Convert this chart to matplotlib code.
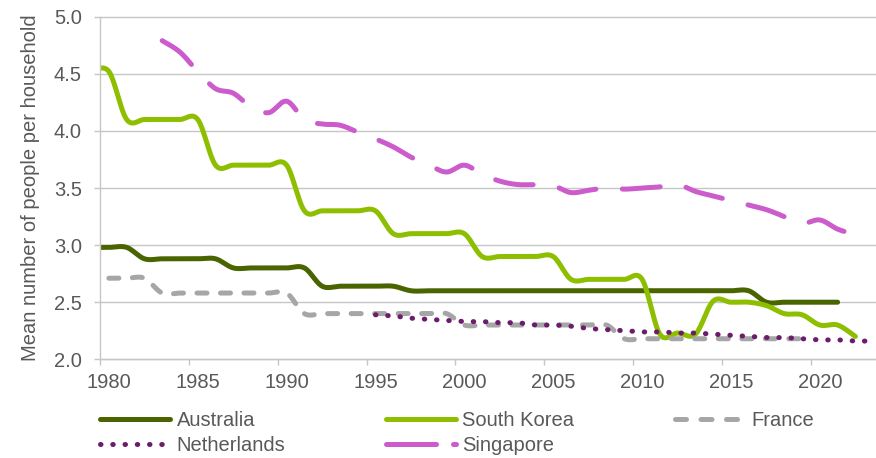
import numpy as np
import matplotlib
matplotlib.use("Agg")
import matplotlib.pyplot as plt
from matplotlib.lines import Line2D
from matplotlib.ticker import FixedLocator, NullFormatter, FixedFormatter

plt.rcParams['font.family'] = ['Liberation Sans', 'DejaVu Sans']

# ---------------- data ----------------
years_australia = list(range(1979, 2022))
australia = [2.98, 2.98, 2.98,
             2.88, 2.88, 2.88, 2.88, 2.88,
             2.80, 2.80, 2.80, 2.80, 2.80,
             2.64, 2.64, 2.64, 2.64, 2.64,
             2.60, 2.60, 2.60, 2.60, 2.60, 2.60, 2.60, 2.60, 2.60, 2.60,
             2.60, 2.60, 2.60, 2.60, 2.60, 2.60, 2.60, 2.60, 2.60, 2.60,
             2.50, 2.50, 2.50, 2.50, 2.50]

years_korea = list(range(1979, 2023))
south_korea = [4.52, 4.52,
               4.10, 4.10, 4.10, 4.10, 4.10,
               3.70, 3.70, 3.70, 3.70, 3.70,
               3.30, 3.30, 3.30, 3.30, 3.30,
               3.10, 3.10, 3.10, 3.10, 3.10,
               2.90, 2.90, 2.90, 2.90, 2.90,
               2.70, 2.70, 2.70, 2.70, 2.70,
               2.22, 2.23, 2.22, 2.51, 2.50, 2.50, 2.47, 2.40, 2.39,
               2.30, 2.30, 2.20]

years_france = list(range(1980, 2020))
france = [2.71, 2.71, 2.71,
          2.58, 2.58, 2.58, 2.58, 2.58, 2.58, 2.58, 2.58,
          2.40, 2.40, 2.40, 2.40, 2.40, 2.40, 2.40, 2.40, 2.40,
          2.30, 2.30, 2.30, 2.30, 2.30, 2.30, 2.30, 2.30, 2.30,
          2.18, 2.18, 2.18, 2.18, 2.18, 2.18, 2.18, 2.18, 2.18, 2.18, 2.18]

years_netherlands = list(range(1995, 2024))
netherlands = [2.39, 2.38, 2.36, 2.35, 2.34, 2.33, 2.33, 2.32, 2.32, 2.30,
               2.30, 2.29, 2.27, 2.26, 2.25, 2.24, 2.24, 2.23, 2.23, 2.22,
               2.21, 2.20, 2.19, 2.19, 2.18, 2.17, 2.17, 2.16, 2.16]

years_singapore = list(range(1983, 2023))
singapore = [4.79, 4.69, 4.52, 4.37, 4.33, 4.21, 4.16, 4.26, 4.10, 4.06,
             4.05, 3.99, 3.93, 3.86, 3.77, 3.70, 3.64, 3.70, 3.62, 3.56,
             3.53, 3.53, 3.52, 3.46, 3.48, 3.50, 3.49, 3.50, 3.51, 3.53,
             3.47, 3.43, 3.39, 3.35, 3.31, 3.25, 3.19, 3.22, 3.14, 3.09]

tick_years = [1980, 1985, 1990, 1995, 2000, 2005, 2010, 2015, 2020]
y_ticks = [2.0, 2.5, 3.0, 3.5, 4.0, 4.5, 5.0]
ylabel = "Mean number of people per household"


def smooth(x, y, n=24):
    """Excel-like smoothed line (Catmull-Rom as cubic Bezier)."""
    P = np.column_stack([np.asarray(x, float), np.asarray(y, float)])
    P = np.vstack([P[0], P, P[-1]])
    t = np.linspace(0, 1, n, endpoint=False)[:, None]
    segs = []
    for i in range(1, len(P) - 2):
        p0, p1, p2, p3 = P[i - 1], P[i], P[i + 1], P[i + 2]
        c1 = p1 + (p2 - p0) / 6.0
        c2 = p2 - (p3 - p1) / 6.0
        segs.append((1 - t) ** 3 * p1 + 3 * (1 - t) ** 2 * t * c1
                    + 3 * (1 - t) * t ** 2 * c2 + t ** 3 * p2)
    segs.append(P[-2][None, :])
    S = np.vstack(segs)
    return S[:, 0], S[:, 1]


fig = plt.figure(figsize=(8.76, 4.58), dpi=100)
ax = fig.add_axes([100 / 876, (458 - 359.3) / 458, 776 / 876, 342.6 / 458])

grid_c = "#c6c6c6"
text_c = "#595959"
lw = 3.6

series = [
    ("Australia", years_australia, australia, dict(color="#4a6400", lw=lw, solid_capstyle="round")),
    ("South Korea", years_korea, south_korea, dict(color="#8dbf00", lw=lw, solid_capstyle="round")),
    ("France", years_france, france, dict(color="#a6a6a6", lw=lw, dashes=(2.0, 2.7), dash_capstyle="round")),
    ("Netherlands", years_netherlands, netherlands, dict(color="#6b1d6c", lw=3.6, dashes=(0.1, 2.35), dash_capstyle="round")),
    ("Singapore", years_singapore, singapore, dict(color="#cc5ccc", lw=lw, dashes=(7.6, 5.3), dash_capstyle="round")),
]

# legend samples (same styles, pattern phase adjusted to the sample length)
legend_style = {
    "France": dict(color="#a6a6a6", lw=lw, dashes=(2.2, 2.9), dash_capstyle="round"),
    "Singapore": dict(color="#cc5ccc", lw=lw, dashes=(10.0, 3.4), dash_capstyle="round"),
}

handles = {}
for name, xs, ys, kw in series:
    sx, sy = smooth(xs, ys)
    h, = ax.plot(sx, sy, label=name, **kw)
    handles[name] = h
for name, kw in legend_style.items():
    handles[name] = Line2D([], [], **kw)

ax.set_xlim(1979.5, 2023.16)
ax.set_ylim(2.0, 5.0)

ax.yaxis.set_major_locator(FixedLocator(y_ticks))
ax.set_yticklabels([f"{v:.1f}" for v in y_ticks])
ax.grid(axis="y", color=grid_c, lw=1.0)
for gl in ax.yaxis.get_gridlines():
    gl.set_clip_on(False)

ax.xaxis.set_major_locator(FixedLocator([y - 0.5 for y in tick_years]))
ax.xaxis.set_major_formatter(NullFormatter())
ax.xaxis.set_minor_locator(FixedLocator(tick_years))
ax.xaxis.set_minor_formatter(FixedFormatter([str(y) for y in tick_years]))
ax.tick_params(axis="x", which="major", length=4, width=1.0, color=grid_c)
ax.tick_params(axis="x", which="minor", length=0, pad=10, labelsize=14.5, labelcolor=text_c)
ax.tick_params(axis="y", which="major", length=4, width=1.0, color=grid_c, pad=9,
               labelsize=14.5, labelcolor=text_c)

for s in ("top", "right"):
    ax.spines[s].set_visible(False)
for s in ("left", "bottom"):
    ax.spines[s].set_color(grid_c)
    ax.spines[s].set_linewidth(1.0)

ax.set_ylabel(ylabel, fontsize=14.5, color=text_c, labelpad=10)

order = ["Australia", "Netherlands", "South Korea", "Singapore", "France"]
leg = fig.legend([handles[k] for k in order], order, ncol=3, loc="upper left",
                 bbox_to_anchor=(100 / 876, 1 - 411 / 458), frameon=False,
                 fontsize=14.5, handlelength=3.5, handletextpad=0.3,
                 columnspacing=5.0, labelspacing=0.28, borderpad=0, borderaxespad=0)
for t in leg.get_texts():
    t.set_color(text_c)

fig.savefig("out.png", dpi=100)
